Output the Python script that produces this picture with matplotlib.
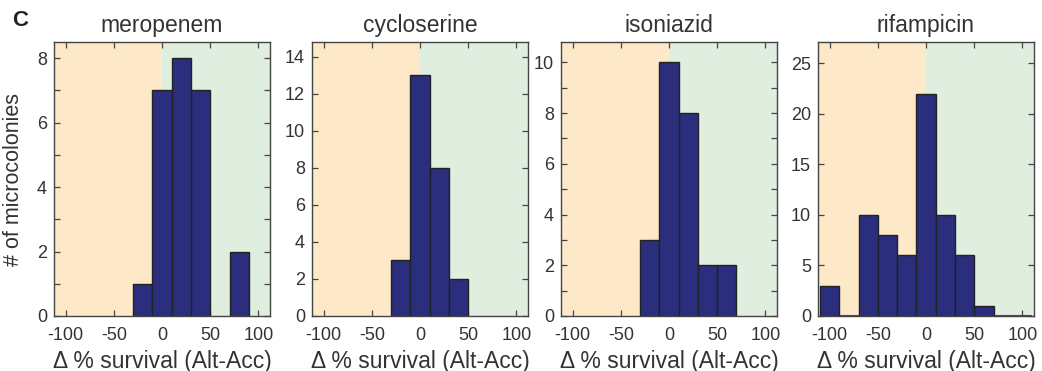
import matplotlib
matplotlib.use("Agg")
import matplotlib.pyplot as plt
from matplotlib.ticker import MultipleLocator

plt.rcParams['font.family'] = ['Liberation Sans', 'DejaVu Sans']
plt.rcParams['axes.unicode_minus'] = False

# Bin centres (Δ % survival, Alt-Acc)
bin_centers = [-100, -80, -60, -40, -20, 0, 20, 40, 60, 80, 100]
bin_width = 20

drugs = ["meropenem", "cycloserine", "isoniazid", "rifampicin"]
meropenem_counts = [0, 0, 0, 0, 1, 7, 8, 7, 0, 2, 0]
cycloserine_counts = [0, 0, 0, 0, 3, 13, 8, 2, 0, 0, 0]
isoniazid_counts = [0, 0, 0, 0, 3, 10, 8, 2, 2, 0, 0]
rifampicin_counts = [3, 0, 10, 8, 6, 22, 10, 6, 1, 0, 0]
all_counts = [meropenem_counts, cycloserine_counts, isoniazid_counts, rifampicin_counts]

y_max = [8.5, 14.8, 10.8, 27.1]
y_major = [2, 2, 2, 5]
y_minor = [1, None, 1, None]
x_ticks = [-100, -50, 0, 50, 100]
x_lim = (-112, 112)

bar_color = "#2B2D7D"
edge_color = "#222222"
orange = "#FDE8C8"
green = "#E0EEE0"
spine_color = "#444444"
text_color = "#333333"

fig = plt.figure(figsize=(10.42, 3.71), dpi=100)
W, H = 1042, 371
lefts = [54, 312, 561, 818]
ax_w = 216
top_px, bot_px = 42, 316

for i, (drug, counts) in enumerate(zip(drugs, all_counts)):
    ax = fig.add_axes([lefts[i] / W, 1 - bot_px / H, ax_w / W, (bot_px - top_px) / H])
    ax.set_xlim(*x_lim)
    ax.set_ylim(0, y_max[i])
    ax.axvspan(x_lim[0], 0, color=orange, zorder=0, lw=0)
    ax.axvspan(0, x_lim[1], color=green, zorder=0, lw=0)
    nonzero_x = [c for c, v in zip(bin_centers, counts) if v > 0]
    nonzero_v = [v for v in counts if v > 0]
    ax.bar(nonzero_x, nonzero_v, width=bin_width, color=bar_color,
           edgecolor=edge_color, linewidth=1.0, zorder=2)
    if drug == "rifampicin":
        zero_x = [c for c, v in zip(bin_centers, counts) if v == 0]
        for zx in zero_x:
            ax.plot([zx - bin_width / 2, zx + bin_width / 2], [0, 0], color="#3a3db0",
                    lw=1.5, zorder=1, clip_on=False, solid_capstyle='butt')
    ax.set_xticks(x_ticks)
    ax.yaxis.set_major_locator(MultipleLocator(y_major[i]))
    if y_minor[i]:
        ax.yaxis.set_minor_locator(MultipleLocator(y_minor[i]))
    ax.tick_params(axis='both', which='both', direction='in', top=True, right=True,
                   length=4.5, width=0.9, color=spine_color, labelsize=13,
                   labelcolor=text_color)
    ax.tick_params(axis='x', pad=8)
    ax.tick_params(axis='y', pad=5)
    ax.tick_params(axis='y', which='minor', length=4.5)
    for s in ax.spines.values():
        s.set_color(spine_color)
        s.set_linewidth(1.0)
        s.set_zorder(3)
    ax.set_title(drug, fontsize=16.5, color=text_color, pad=7)
    ax.set_xlabel("Δ % survival (Alt-Acc)", fontsize=16.5, color=text_color, labelpad=4)
    if i == 0:
        ax.set_ylabel("# of microcolonies", fontsize=15.5, color=text_color, labelpad=9)

fig.text(12 / W, 1 - 26 / H, "C", fontsize=16, fontweight='bold', color="#222222")

fig.savefig("out.png", dpi=100)
